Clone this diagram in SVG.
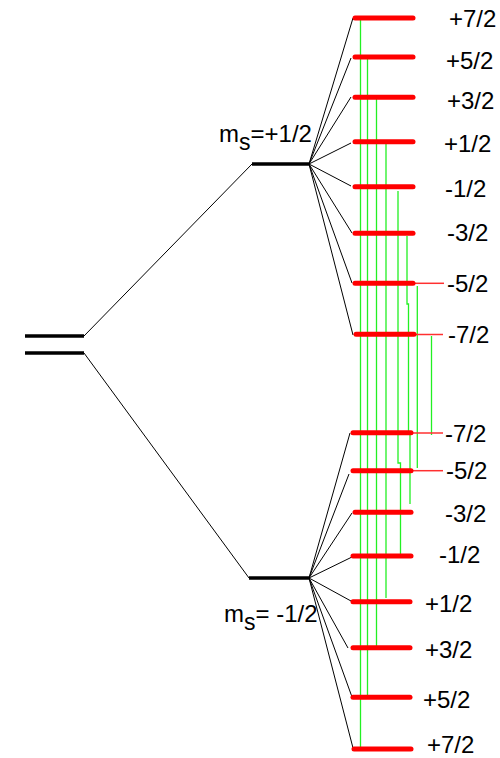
<svg xmlns="http://www.w3.org/2000/svg" width="500" height="758" viewBox="0 0 500 758">
<style>
.lvl{stroke:#000;stroke-width:3.5;stroke-linecap:butt}
.red{stroke:#ff0000;stroke-width:5;stroke-linecap:round}
.thinred{stroke:#ff3030;stroke-width:1.5}
.fan{stroke:#000;stroke-width:1;fill:none}
.tr{stroke:#22f022;stroke-width:1.3;fill:none}
text{font-family:"Liberation Sans",Arial,sans-serif;font-size:24px;fill:#000}
.sub{font-size:23px}
</style>
<rect width="500" height="758" fill="#fff"/>
<g id="connectors">
<line class="fan" x1="84" y1="336" x2="252" y2="164"/>
<line class="fan" x1="84" y1="353" x2="249" y2="578"/>
<g id="fan-upper">
<line class="fan" x1="309" y1="164" x2="353" y2="18"/>
<line class="fan" x1="309" y1="164" x2="351" y2="58"/>
<line class="fan" x1="309" y1="164" x2="351" y2="97"/>
<line class="fan" x1="309" y1="164" x2="351" y2="143"/>
<line class="fan" x1="309" y1="164" x2="351" y2="186"/>
<line class="fan" x1="309" y1="164" x2="352" y2="233"/>
<line class="fan" x1="309" y1="164" x2="352" y2="283"/>
<line class="fan" x1="309" y1="164" x2="353" y2="335"/>
</g>
<g id="fan-lower">
<line class="fan" x1="309" y1="578" x2="350" y2="433"/>
<line class="fan" x1="309" y1="578" x2="349" y2="474"/>
<line class="fan" x1="309" y1="578" x2="352" y2="513"/>
<line class="fan" x1="309" y1="578" x2="352" y2="557"/>
<line class="fan" x1="309" y1="578" x2="351" y2="601"/>
<line class="fan" x1="309" y1="578" x2="348" y2="648"/>
<line class="fan" x1="309" y1="578" x2="352" y2="697"/>
<line class="fan" x1="309" y1="578" x2="353" y2="748"/>
</g>
<g id="transitions">
<line class="tr" x1="360.5" y1="20" x2="360.5" y2="747"/>
<line class="tr" x1="367.5" y1="59" x2="367.5" y2="696"/>
<line class="tr" x1="376.5" y1="99" x2="376.5" y2="646"/>
<line class="tr" x1="386" y1="144" x2="386" y2="598"/>
<polyline class="tr" points="398,191 398,463 400.5,463 400.5,555"/>
<polyline class="tr" points="407,236 407,304 408.5,304 408.5,433 410,433 410,504"/>
<line class="tr" x1="417.3" y1="286" x2="417.3" y2="468"/>
<line class="tr" x1="431.5" y1="336" x2="431.5" y2="435"/>
</g>
<line class="thinred" x1="415" y1="283.3" x2="444" y2="283.3"/>
<line class="thinred" x1="416" y1="334.5" x2="443" y2="334.5"/>
<line class="thinred" x1="413" y1="433" x2="443" y2="433"/>
<line class="thinred" x1="413" y1="470.7" x2="443" y2="470.7"/>
</g>
<g id="level-free">
<line class="lvl" x1="25" y1="336" x2="84" y2="336"/>
<line class="lvl" x1="25" y1="353" x2="84" y2="353"/>
</g>
<g id="level-ms-plus">
<line class="lvl" x1="252" y1="164" x2="310" y2="164"/>
<text x="219" y="141.5">m<tspan class="sub" dy="8">s</tspan><tspan dy="-8">=+1/2</tspan></text>
</g>
<g id="level-ms-minus">
<line class="lvl" x1="249" y1="578" x2="309" y2="578"/>
<text x="224" y="622">m<tspan class="sub" dy="8">s</tspan><tspan dy="-8">= -1/2</tspan></text>
</g>
<g id="upper-levels">
<g id="u-p72"><line class="red" x1="355" y1="18" x2="413" y2="18"/><text x="449" y="26.5">+7/2</text></g>
<g id="u-p52"><line class="red" x1="355" y1="57" x2="413" y2="57"/><text x="446" y="68.5">+5/2</text></g>
<g id="u-p32"><line class="red" x1="355" y1="97.3" x2="413" y2="97.3"/><text x="447" y="108.5">+3/2</text></g>
<g id="u-p12"><line class="red" x1="355" y1="141.7" x2="413" y2="141.7"/><text x="444" y="151.5">+1/2</text></g>
<g id="u-m12"><line class="red" x1="355" y1="186.7" x2="413" y2="186.7"/><text x="445" y="196.5">-1/2</text></g>
<g id="u-m32"><line class="red" x1="355" y1="233.3" x2="413" y2="233.3"/><text x="447" y="240.5">-3/2</text></g>
<g id="u-m52"><line class="red" x1="355" y1="283.3" x2="413" y2="283.3"/><text x="447" y="291.5">-5/2</text></g>
<g id="u-m72"><line class="red" x1="356" y1="334.3" x2="414" y2="334.3"/><text x="448" y="342.5">-7/2</text></g>
</g>
<g id="lower-levels">
<g id="l-m72"><line class="red" x1="353" y1="432.7" x2="411" y2="432.7"/><text x="445" y="441.5">-7/2</text></g>
<g id="l-m52"><line class="red" x1="353" y1="470.7" x2="411" y2="470.7"/><text x="446" y="478.5">-5/2</text></g>
<g id="l-m32"><line class="red" x1="355" y1="512.3" x2="411" y2="512.3"/><text x="445" y="521.5">-3/2</text></g>
<g id="l-m12"><line class="red" x1="353" y1="556" x2="411" y2="556"/><text x="439" y="562.5">-1/2</text></g>
<g id="l-p12"><line class="red" x1="353" y1="601.7" x2="410" y2="601.7"/><text x="425" y="611.5">+1/2</text></g>
<g id="l-p32"><line class="red" x1="353" y1="647.7" x2="410" y2="647.7"/><text x="425" y="657.5">+3/2</text></g>
<g id="l-p52"><line class="red" x1="353" y1="697.3" x2="410" y2="697.3"/><text x="423" y="707.5">+5/2</text></g>
<g id="l-p72"><line class="red" x1="354" y1="749" x2="411" y2="749"/><text x="427" y="753">+7/2</text></g>
</g>
</svg>
